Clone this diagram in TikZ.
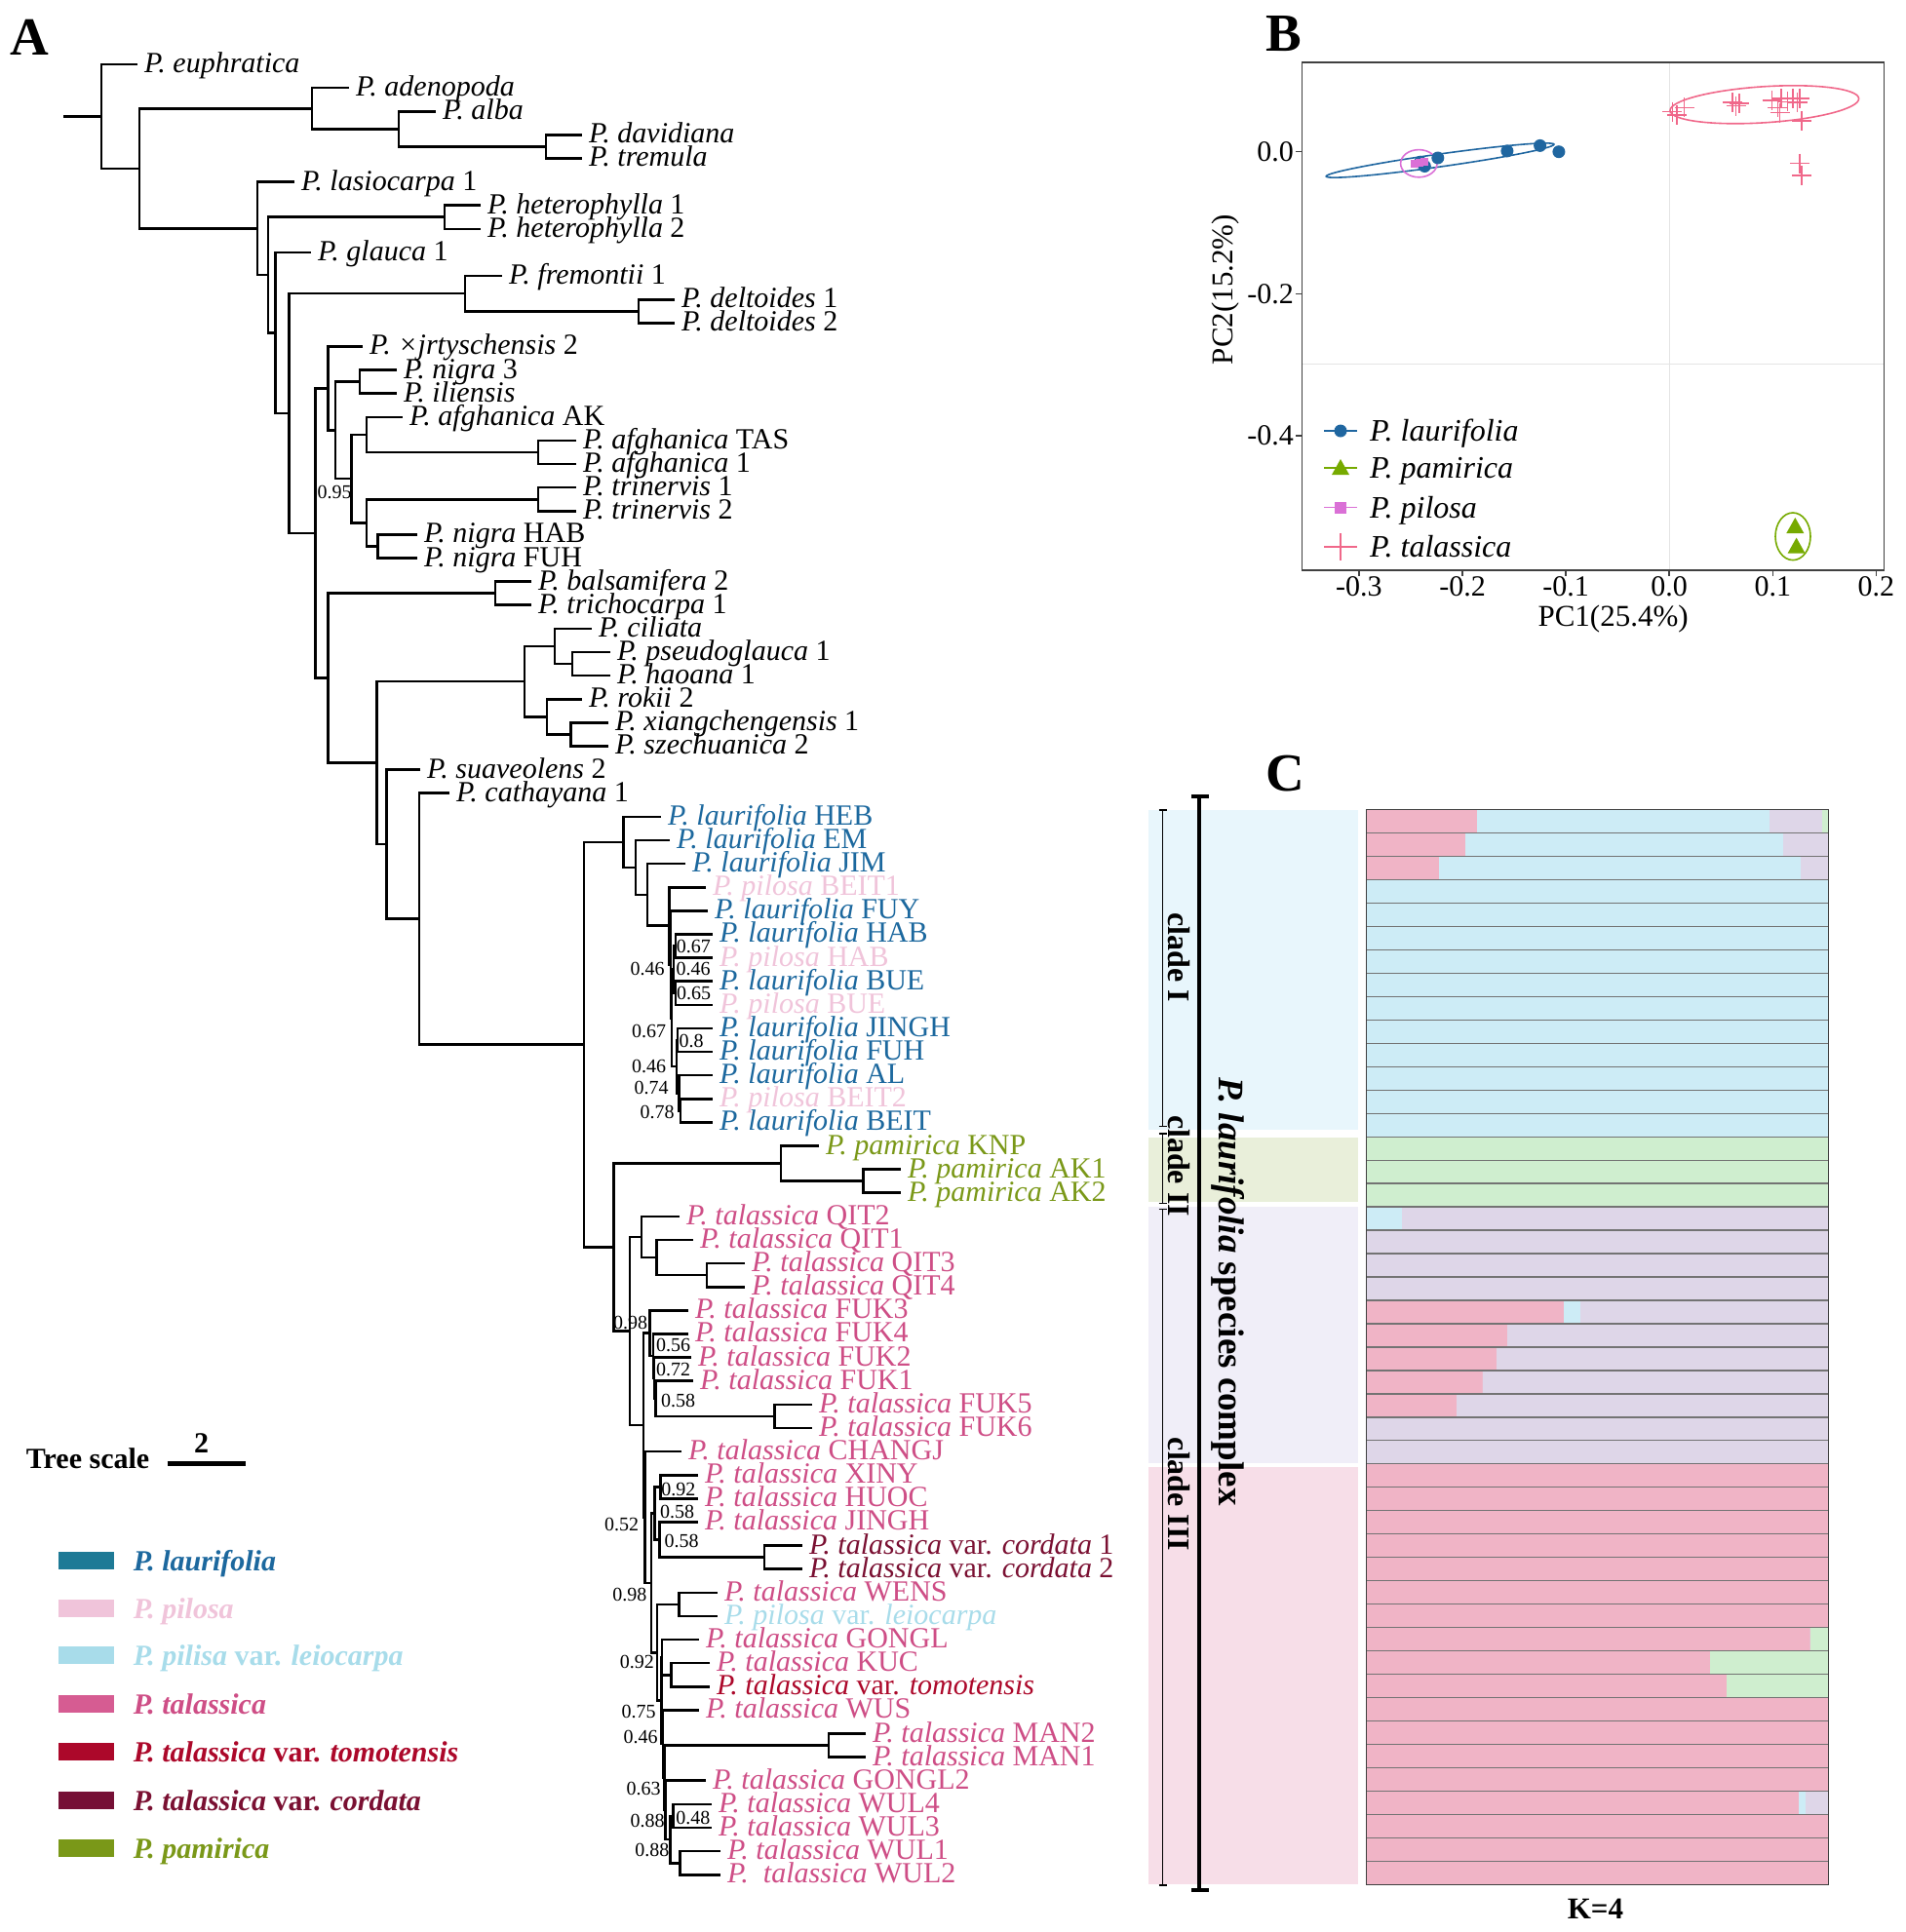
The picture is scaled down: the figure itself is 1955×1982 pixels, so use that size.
\documentclass[tikz,border=0pt]{standalone}
\usepackage{fontspec}
\setmainfont{Liberation Serif}
\usetikzlibrary{calc}

\definecolor{laublue}{RGB}{28,104,158}
\definecolor{pilpink}{RGB}{240,196,218}
\definecolor{leicyan}{RGB}{168,220,234}
\definecolor{talpink}{RGB}{206,78,134}
\definecolor{tomred}{RGB}{172,8,42}
\definecolor{cormar}{RGB}{122,16,50}
\definecolor{pamgreen}{RGB}{122,152,24}
\definecolor{lauteal}{RGB}{30,122,150}
\definecolor{talsw}{RGB}{214,92,146}
\definecolor{corsw}{RGB}{118,16,54}
\definecolor{pcablue}{RGB}{31,102,160}
\definecolor{pcagreen}{RGB}{118,170,0}
\definecolor{pcaviolet}{RGB}{218,112,214}
\definecolor{pcapink}{RGB}{240,104,138}
\definecolor{gridgrey}{RGB}{228,228,228}
\definecolor{qpink}{RGB}{240,180,198}
\definecolor{qcyan}{RGB}{205,236,246}
\definecolor{qlav}{RGB}{222,214,232}
\definecolor{qgreen}{RGB}{207,238,207}
\definecolor{bgcyan}{RGB}{232,246,252}
\definecolor{bgolive}{RGB}{233,239,218}
\definecolor{bglav}{RGB}{240,238,248}
\definecolor{bgpink}{RGB}{247,222,232}

\tikzset{branch/.style={line width=2.6pt}}
\tikzset{leaf/.style={anchor=west, inner xsep=7pt, inner ysep=0pt, outer sep=0pt, text height=20pt, text depth=3pt, font=\fontsize{30}{30}\selectfont}}
\tikzset{lau/.style={leaf, text=laublue}}
\tikzset{pil/.style={leaf, text=pilpink}}
\tikzset{pam/.style={leaf, text=pamgreen}}
\tikzset{tal/.style={leaf, text=talpink}}
\tikzset{cor/.style={leaf, text=cormar}}
\tikzset{tom/.style={leaf, text=tomred}}
\tikzset{lei/.style={leaf, text=leicyan}}
\tikzset{bs/.style={inner sep=0pt, font=\fontsize{20}{20}\selectfont}}
\tikzset{panel/.style={inner sep=0pt, font=\fontsize{55}{55}\selectfont\bfseries}}
\tikzset{lgd/.style={anchor=west, inner sep=0pt, text height=21pt, text depth=0pt, font=\fontsize{30}{30}\selectfont\bfseries\itshape}}
\tikzset{ticklab/.style={inner sep=0pt, font=\fontsize{30}{30}\selectfont}}
\tikzset{pkey/.style={anchor=west, inner sep=0pt, text height=21pt, text depth=0pt, font=\fontsize{32}{32}\selectfont\itshape}}
\tikzset{talcross/.style={pcapink, line width=1.5pt}}
\tikzset{cladelab/.style={inner sep=0pt, rotate=-90, font=\fontsize{32}{32}\selectfont\bfseries}}

\begin{document}
\begin{tikzpicture}[x=1pt, y=-1pt]
\useasboundingbox (0,0) rectangle (1955,1982);

\node[panel] (pA) at (30,38) {A};
\node[panel] (pB) at (1317,35) {B};
\node[panel] (pC) at (1318,794) {C};

% tree, one row per leaf
\begin{scope}[y=-24.12pt, yshift=-66pt]
\node[leaf] (l0) at (141,0) {\textit{P. euphratica}};
\node[leaf] (l1) at (358,1) {\textit{P. adenopoda}};
\node[leaf] (l2) at (447,2) {\textit{P. alba}};
\node[leaf] (l3) at (597,3) {\textit{P. davidiana}};
\node[leaf] (l4) at (597,4) {\textit{P. tremula}};
\node[leaf] (l5) at (302,5) {\textit{P. lasiocarpa} 1};
\node[leaf] (l6) at (493,6) {\textit{P. heterophylla} 1};
\node[leaf] (l7) at (493,7) {\textit{P. heterophylla} 2};
\node[leaf] (l8) at (319,8) {\textit{P. glauca} 1};
\node[leaf] (l9) at (515,9) {\textit{P. fremontii} 1};
\node[leaf] (l10) at (692,10) {\textit{P. deltoides} 1};
\node[leaf] (l11) at (692,11) {\textit{P. deltoides} 2};
\node[leaf] (l12) at (372,12) {\textit{P. ×jrtyschensis} 2};
\node[leaf] (l13) at (407,13) {\textit{P. nigra} 3};
\node[leaf] (l14) at (407,14) {\textit{P. iliensis}};
\node[leaf] (l15) at (413,15) {\textit{P. afghanica} AK};
\node[leaf] (l16) at (591,16) {\textit{P. afghanica} TAS};
\node[leaf] (l17) at (591,17) {\textit{P. afghanica} 1};
\node[leaf] (l18) at (591,18) {\textit{P. trinervis} 1};
\node[leaf] (l19) at (591,19) {\textit{P. trinervis} 2};
\node[leaf] (l20) at (428,20) {\textit{P. nigra} HAB};
\node[leaf] (l21) at (428,21) {\textit{P. nigra} FUH};
\node[leaf] (l22) at (545,22) {\textit{P. balsamifera} 2};
\node[leaf] (l23) at (545,23) {\textit{P. trichocarpa} 1};
\node[leaf] (l24) at (607,24) {\textit{P. ciliata}};
\node[leaf] (l25) at (626,25) {\textit{P. pseudoglauca} 1};
\node[leaf] (l26) at (626,26) {\textit{P. haoana} 1};
\node[leaf] (l27) at (597,27) {\textit{P. rokii} 2};
\node[leaf] (l28) at (624,28) {\textit{P. xiangchengensis} 1};
\node[leaf] (l29) at (624,29) {\textit{P. szechuanica} 2};
\node[leaf] (l30) at (431,30) {\textit{P. suaveolens} 2};
\node[leaf] (l31) at (461,31) {\textit{P. cathayana} 1};
\node[lau] (l32) at (678,32) {\textit{P. laurifolia} HEB};
\node[lau] (l33) at (687,33) {\textit{P. laurifolia} EM};
\node[lau] (l34) at (703,34) {\textit{P. laurifolia} JIM};
\node[pil] (l35) at (724,35) {\textit{P. pilosa} BEIT1};
\node[lau] (l36) at (726,36) {\textit{P. laurifolia} FUY};
\node[lau] (l37) at (731,37) {\textit{P. laurifolia} HAB};
\node[pil] (l38) at (731,38) {\textit{P. pilosa} HAB};
\node[lau] (l39) at (731,39) {\textit{P. laurifolia} BUE};
\node[pil] (l40) at (731,40) {\textit{P. pilosa} BUE};
\node[lau] (l41) at (731,41) {\textit{P. laurifolia} JINGH};
\node[lau] (l42) at (731,42) {\textit{P. laurifolia} FUH};
\node[lau] (l43) at (731,43) {\textit{P. laurifolia} AL};
\node[pil] (l44) at (731,44) {\textit{P. pilosa} BEIT2};
\node[lau] (l45) at (731,45) {\textit{P. laurifolia} BEIT};
\node[pam] (l46) at (840,46) {\textit{P. pamirica} KNP};
\node[pam] (l47) at (924,47) {\textit{P. pamirica} AK1};
\node[pam] (l48) at (924,48) {\textit{P. pamirica} AK2};
\node[tal] (l49) at (697,49) {\textit{P. talassica} QIT2};
\node[tal] (l50) at (711,50) {\textit{P. talassica} QIT1};
\node[tal] (l51) at (764,51) {\textit{P. talassica} QIT3};
\node[tal] (l52) at (764,52) {\textit{P. talassica} QIT4};
\node[tal] (l53) at (706,53) {\textit{P. talassica} FUK3};
\node[tal] (l54) at (706,54) {\textit{P. talassica} FUK4};
\node[tal] (l55) at (709,55) {\textit{P. talassica} FUK2};
\node[tal] (l56) at (711,56) {\textit{P. talassica} FUK1};
\node[tal] (l57) at (833,57) {\textit{P. talassica} FUK5};
\node[tal] (l58) at (833,58) {\textit{P. talassica} FUK6};
\node[tal] (l59) at (699,59) {\textit{P. talassica} CHANGJ};
\node[tal] (l60) at (716,60) {\textit{P. talassica} XINY};
\node[tal] (l61) at (716,61) {\textit{P. talassica} HUOC};
\node[tal] (l62) at (716,62) {\textit{P. talassica} JINGH};
\node[cor] (l63) at (823,63) {\textit{P. talassica} var. \textit{cordata} 1};
\node[cor] (l64) at (823,64) {\textit{P. talassica} var. \textit{cordata} 2};
\node[tal] (l65) at (736,65) {\textit{P. talassica} WENS};
\node[lei] (l66) at (736,66) {\textit{P. pilosa} var. \textit{leiocarpa}};
\node[tal] (l67) at (717,67) {\textit{P. talassica} GONGL};
\node[tal] (l68) at (728,68) {\textit{P. talassica} KUC};
\node[tom] (l69) at (728,69) {\textit{P. talassica} var. \textit{tomotensis}};
\node[tal] (l70) at (717,70) {\textit{P. talassica} WUS};
\node[tal] (l71) at (888,71) {\textit{P. talassica} MAN2};
\node[tal] (l72) at (888,72) {\textit{P. talassica} MAN1};
\node[tal] (l73) at (724,73) {\textit{P. talassica} GONGL2};
\node[tal] (l74) at (730,74) {\textit{P. talassica} WUL4};
\node[tal] (l75) at (730,75) {\textit{P. talassica} WUL3};
\node[tal] (l76) at (739,76) {\textit{P. talassica} WUL1};
\node[tal] (l77) at (739,77) {\textit{P.\ \ talassica} WUL2};

\coordinate (stem) at (65,2.214);
\coordinate (rt) at (104,2.214);
\coordinate (n1) at (143,4.428);
\coordinate (ad1) at (320,1.875);
\coordinate (ad2) at (409,2.75);
\coordinate (ad3) at (560,3.5);
\coordinate (n2) at (264,6.981);
\coordinate (n3) at (275,8.962);
\coordinate (he) at (456,6.5);
\coordinate (n4) at (282.7,11.423);
\coordinate (n5) at (296.7,14.847);
\coordinate (fr) at (477,9.75);
\coordinate (de) at (655,10.5);
\coordinate (nA) at (323.3,19.944);
\coordinate (nB) at (336.7,13.781);
\coordinate (nD) at (344,15.563);
\coordinate (ni) at (369,13.5);
\coordinate (nE) at (360.5,17.625);
\coordinate (af) at (376,15.75);
\coordinate (af2) at (552,16.5);
\coordinate (nG) at (376,19.5);
\coordinate (tr) at (552,18.5);
\coordinate (ng) at (387.5,20.5);
\coordinate (nC) at (336.7,26.106);
\coordinate (ba) at (508,22.5);
\coordinate (nH) at (386.7,29.712);
\coordinate (cg) at (538,26.25);
\coordinate (ci) at (569,24.75);
\coordinate (ps) at (587,25.5);
\coordinate (ro) at (561,27.75);
\coordinate (xi) at (585.5,28.5);
\coordinate (nI) at (396.7,33.174);
\coordinate (nJ) at (430,36.349);
\coordinate (nK) at (599,41.697);
\coordinate (nL) at (639.5,33.080);
\coordinate (nM) at (652,34.160);
\coordinate (nN) at (664,35.320);
\coordinate (nO) at (686.6,36.641);
\coordinate (la9) at (688,38.281);
\coordinate (la8) at (689,40.563);
\coordinate (la3) at (691,38.5);
\coordinate (la1) at (693,37.5);
\coordinate (la2) at (693,39.5);
\coordinate (la7) at (694,42.625);
\coordinate (la4) at (695,41.5);
\coordinate (la6) at (696.5,43.75);
\coordinate (la5) at (698,44.5);
\coordinate (nP) at (629.7,50.314);
\coordinate (pa) at (801,46.75);
\coordinate (pa2) at (885.6,47.5);
\coordinate (nR) at (646,53.878);
\coordinate (qi) at (658,49.875);
\coordinate (qi2) at (673.7,50.75);
\coordinate (qi3) at (725,51.5);
\coordinate (nT) at (660,57.881);
\coordinate (fu1) at (666.7,53.969);
\coordinate (fu2) at (670,54.938);
\coordinate (fu3) at (671,55.875);
\coordinate (fu4) at (672.5,56.75);
\coordinate (fu5) at (794.7,57.5);
\coordinate (nZ) at (661.7,61.793);
\coordinate (nY) at (668,64.586);
\coordinate (nX) at (671.7,61.625);
\coordinate (xn) at (677.5,60.5);
\coordinate (jc) at (676.6,62.75);
\coordinate (co) at (784,63.5);
\coordinate (nV) at (674,67.547);
\coordinate (we) at (696.7,65.5);
\coordinate (nW) at (678.3,69.594);
\coordinate (w1) at (679,67.75);
\coordinate (kt) at (688.3,68.5);
\coordinate (wu) at (680,71.438);
\coordinate (wm) at (681.7,72.875);
\coordinate (mn) at (849.8,71.5);
\coordinate (g2) at (682.7,74.25);
\coordinate (wl) at (687.3,75.5);
\coordinate (w43) at (690.7,74.5);
\coordinate (w12) at (697.3,76.5);

\draw[branch] (stem) -- (rt)
  (l0.west) -| (rt) |- (n1)
  (ad1) -| (n1) |- (n2)
  (l1.west) -| (ad1) |- (ad2)
  (l2.west) -| (ad2) |- (ad3)
  (l3.west) -| (ad3) |- (l4.west)
  (l5.west) -| (n2) |- (n3)
  (he) -| (n3) |- (n4)
  (l6.west) -| (he) |- (l7.west)
  (l8.west) -| (n4) |- (n5)
  (fr) -| (n5) |- (nA)
  (l9.west) -| (fr) |- (de)
  (l10.west) -| (de) |- (l11.west)
  (nB) -| (nA) |- (nC)
  (l12.west) -| (nB) |- (nD)
  (ni) -| (nD) |- (nE)
  (l13.west) -| (ni) |- (l14.west)
  (af) -| (nE) |- (nG)
  (l15.west) -| (af) |- (af2)
  (l16.west) -| (af2) |- (l17.west)
  (tr) -| (nG) |- (ng)
  (l18.west) -| (tr) |- (l19.west)
  (l20.west) -| (ng) |- (l21.west)
  (ba) -| (nC) |- (nH)
  (l22.west) -| (ba) |- (l23.west)
  (cg) -| (nH) |- (nI)
  (ci) -| (cg) |- (ro)
  (l24.west) -| (ci) |- (ps)
  (l25.west) -| (ps) |- (l26.west)
  (l27.west) -| (ro) |- (xi)
  (l28.west) -| (xi) |- (l29.west)
  (l30.west) -| (nI) |- (nJ)
  (l31.west) -| (nJ) |- (nK)
  (nL) -| (nK) |- (nP)
  (l32.west) -| (nL) |- (nM)
  (l33.west) -| (nM) |- (nN)
  (l34.west) -| (nN) |- (nO)
  (l35.west) -| (nO) |- (la9)
  (l36.west) -| (la9) |- (la8)
  (la3) -| (la8) |- (la7)
  (la1) -| (la3) |- (la2)
  (l37.west) -| (la1) |- (l38.west)
  (l39.west) -| (la2) |- (l40.west)
  (la4) -| (la7) |- (la6)
  (l41.west) -| (la4) |- (l42.west)
  (l43.west) -| (la6) |- (la5)
  (l44.west) -| (la5) |- (l45.west)
  (pa) -| (nP) |- (nR)
  (l46.west) -| (pa) |- (pa2)
  (l47.west) -| (pa2) |- (l48.west)
  (qi) -| (nR) |- (nT)
  (l49.west) -| (qi) |- (qi2)
  (l50.west) -| (qi2) |- (qi3)
  (l51.west) -| (qi3) |- (l52.west)
  (fu1) -| (nT) |- (nZ)
  (l53.west) -| (fu1) |- (fu2)
  (l54.west) -| (fu2) |- (fu3)
  (l55.west) -| (fu3) |- (fu4)
  (l56.west) -| (fu4) |- (fu5)
  (l57.west) -| (fu5) |- (l58.west)
  (l59.west) -| (nZ) |- (nY)
  (nX) -| (nY) |- (nV)
  (xn) -| (nX) |- (jc)
  (l60.west) -| (xn) |- (l61.west)
  (l62.west) -| (jc) |- (co)
  (l63.west) -| (co) |- (l64.west)
  (we) -| (nV) |- (nW)
  (l65.west) -| (we) |- (l66.west)
  (w1) -| (nW) |- (wu)
  (l67.west) -| (w1) |- (kt)
  (l68.west) -| (kt) |- (l69.west)
  (l70.west) -| (wu) |- (wm)
  (mn) -| (wm) |- (g2)
  (l71.west) -| (mn) |- (l72.west)
  (l73.west) -| (g2) |- (wl)
  (w43) -| (wl) |- (w12)
  (l74.west) -| (w43) |- (l75.west)
  (l76.west) -| (w12) |- (l77.west);
\end{scope}

% node support
\node[bs] (b1) at (343,505) {0.95};
\node[bs] (b2) at (711.3,970.5) {0.67};
\node[bs] (b3) at (711,994) {0.46};
\node[bs] (b4) at (711.5,1019) {0.65};
\node[bs] (b5) at (664,994) {0.46};
\node[bs] (b6) at (665.5,1057.5) {0.67};
\node[bs] (b7) at (709,1067.5) {0.8};
\node[bs] (b8) at (665.5,1094) {0.46};
\node[bs] (b9) at (668,1115.5) {0.74};
\node[bs] (b10) at (674,1140.5) {0.78};
\node[bs] (b11) at (646.7,1356.7) {0.98};
\node[bs] (b12) at (690.5,1380.4) {0.56};
\node[bs] (b13) at (690.5,1405) {0.72};
\node[bs] (b14) at (695.5,1436.8) {0.58};
\node[bs] (b15) at (695.8,1527.7) {0.92};
\node[bs] (b16) at (694.5,1551.4) {0.58};
\node[bs] (b17) at (699,1581) {0.58};
\node[bs] (b18) at (637.5,1564.3) {0.52};
\node[bs] (b19) at (645.8,1636.4) {0.98};
\node[bs] (b20) at (653.3,1704.6) {0.92};
\node[bs] (b21) at (655,1756) {0.75};
\node[bs] (b22) at (657,1781.7) {0.46};
\node[bs] (b23) at (660,1835) {0.63};
\node[bs] (b24) at (664,1867.8) {0.88};
\node[bs] (b25) at (710.8,1864.8) {0.48};
\node[bs] (b26) at (668.8,1898.4) {0.88};

% scale and legend
\node[anchor=west, inner sep=0pt, font=\fontsize{30}{30}\selectfont\bfseries] (ts) at (26.7,1496) {Tree scale};
\coordinate (sb1) at (171.7,1501.7);
\coordinate (sb2) at (251.7,1501.7);
\draw[line width=4.5pt] (sb1) -- (sb2);
\node[inner sep=0pt, font=\fontsize{30}{30}\selectfont\bfseries] (sbl) at (206.7,1481) {2};

\fill[lauteal] (60,1591.5) rectangle (116.7,1609.5);
\node[lgd, text=laublue] (g1) at (136.7,1600.5) {P. laurifolia};
\fill[pilpink] (60,1640.5) rectangle (116.7,1658.5);
\node[lgd, text=pilpink] (g2) at (136.7,1649.5) {P. pilosa};
\fill[leicyan] (60,1689) rectangle (116.7,1707);
\node[lgd, text=leicyan] (g3) at (136.7,1698) {P. pilisa \upshape var. \itshape leiocarpa};
\fill[talsw] (60,1738.7) rectangle (116.7,1756.7);
\node[lgd, text=talpink] (g4) at (136.7,1747.7) {P. talassica};
\fill[tomred] (60,1788.3) rectangle (116.7,1806.3);
\node[lgd, text=tomred] (g5) at (136.7,1797.3) {P. talassica \upshape var. \itshape tomotensis};
\fill[corsw] (60,1837.7) rectangle (116.7,1855.7);
\node[lgd, text=cormar] (g6) at (136.7,1846.7) {P. talassica \upshape var. \itshape cordata};
\fill[pamgreen] (60,1887) rectangle (116.7,1905);
\node[lgd, text=pamgreen] (g7) at (136.7,1896) {P. pamirica};

% PCA
\draw[gridgrey, line width=1pt] (1712.2,64) -- (1712.2,585);
\draw[gridgrey, line width=1pt] (1335.4,373.7) -- (1932.5,373.7);
\draw[pcablue, line width=1.6pt, rotate around={8:(1477.1,164.5)}] (1477.1,164.5) ellipse [x radius=118pt, y radius=6.5pt];
\draw[pcaviolet, line width=1.6pt] (1455.3,167.7) ellipse [x radius=18.7pt, y radius=14.1pt];
\draw[pcapink, line width=1.6pt, rotate around={3.7:(1809.8,107.3)}] (1809.8,107.3) ellipse [x radius=97pt, y radius=18.5pt];
\draw[pcagreen, line width=1.6pt] (1839,550.3) ellipse [x radius=18pt, y radius=24.3pt];
\foreach \px/\py in {1456.8/166.2, 1461.3/170.5, 1474.8/162, 1545.9/154.9, 1579.6/149.4, 1598.9/155.7}
  \fill[pcablue] (\px,\py) circle (6.5pt);
\foreach \px/\py in {1451/167.5, 1456/166.5, 1461/165.5}
  \fill[pcaviolet] ({\px-4},{\py-4}) rectangle ({\px+4},{\py+4});
\foreach \px/\py in {1715.4/114.5, 1719.9/117.8, 1727.5/110.3, 1777/105.2, 1780.6/108.6, 1784.2/106.1, 1817.5/103.1, 1823.3/110.3, 1826.9/101, 1833.6/104.4, 1839/101, 1843.5/105.2, 1845.8/101, 1825.5/115.7, 1848/124.2, 1845.8/167.5, 1848/180.1}
  \draw[talcross] ({\px-10},\py) -- ({\px+10},\py) (\px,{\py-10}) -- (\px,{\py+10});
\foreach \px/\py in {1841.3/540, 1842.6/560.6}
  \fill[pcagreen] (\px,{\py-9}) -- ({\px-9},{\py+7}) -- ({\px+9},{\py+7}) -- cycle;
\draw[line width=1.5pt, black!75] (1335.4,64) rectangle (1932.5,585);
\foreach \v/\lab in {-0.3/-0.3, -0.2/-0.2, -0.1/-0.1, 0/0.0, 0.1/0.1, 0.2/0.2} {
  \draw[line width=1.5pt, black!75] ({1712.2+1061*\v},585) -- ({1712.2+1061*\v},591);
  \node[ticklab] (xt\lab) at ({1712.2+1061*\v},602) {\lab};
}
\foreach \v/\lab in {0/0.0, -0.2/-0.2, -0.4/-0.4} {
  \draw[line width=1.5pt, black!75] (1329.4,{155.7-728*\v}) -- (1335.4,{155.7-728*\v});
  \node[ticklab, anchor=east] (yt\lab) at (1327,{155.7-728*\v}) {\lab};
}
\node[ticklab, font=\fontsize{31}{31}\selectfont] (xlab) at (1654.6,635.5) {PC1(25.4\%)};
\node[ticklab, font=\fontsize{31}{31}\selectfont, rotate=90] (ylab) at (1257,297) {PC2(15.2\%)};

\draw[pcablue, line width=1.6pt] (1358,442) -- (1392,442);
\fill[pcablue] (1375,442) circle (6.5pt);
\node[pkey] (k1) at (1405,442) {P. laurifolia};
\draw[pcagreen, line width=1.6pt] (1358,480) -- (1392,480);
\fill[pcagreen] (1375,471) -- (1366,487) -- (1384,487) -- cycle;
\node[pkey] (k2) at (1405,480) {P. pamirica};
\draw[pcaviolet, line width=1.6pt] (1358,520.6) -- (1392,520.6);
\fill[pcaviolet] (1369,514.6) rectangle (1381,526.6);
\node[pkey] (k3) at (1405,520.6) {P. pilosa};
\draw[talcross] (1358,561) -- (1392,561) (1375,547) -- (1375,575);
\node[pkey] (k4) at (1405,561) {P. talassica};

% structure, K=4
\fill[bgcyan] (1178,831) rectangle (1393,1159.4);
\fill[bgolive] (1178,1166.5) rectangle (1393,1232.5);
\fill[bglav] (1178,1238.4) rectangle (1393,1501.2);
\fill[bgpink] (1178,1505.2) rectangle (1393,1932.6);
\foreach \k/\a/\b/\c in {0/1514.5/1814.8/1868.7, 1/1503.2/1829.2/1875.4, 2/1476/1847.1/1875.4,
  3/1401.5/1875.4/1875.4, 4/1401.5/1875.4/1875.4, 5/1401.5/1875.4/1875.4, 6/1401.5/1875.4/1875.4,
  7/1401.5/1875.4/1875.4, 8/1401.5/1875.4/1875.4, 9/1401.5/1875.4/1875.4, 10/1401.5/1875.4/1875.4,
  11/1401.5/1875.4/1875.4, 12/1401.5/1875.4/1875.4, 13/1401.5/1875.4/1875.4,
  14/1401.5/1401.5/1401.5, 15/1401.5/1401.5/1401.5, 16/1401.5/1401.5/1401.5,
  17/1401.5/1437.5/1875.4, 18/1401.5/1401.5/1875.4, 19/1401.5/1401.5/1875.4, 20/1401.5/1401.5/1875.4,
  21/1604.3/1621.2/1875.4, 22/1546.3/1546.3/1875.4, 23/1535/1535/1875.4, 24/1520.6/1520.6/1875.4,
  25/1494/1494/1875.4, 26/1401.5/1401.5/1875.4, 27/1401.5/1401.5/1875.4,
  28/1875.4/1875.4/1875.4, 29/1875.4/1875.4/1875.4, 30/1875.4/1875.4/1875.4, 31/1875.4/1875.4/1875.4,
  32/1875.4/1875.4/1875.4, 33/1875.4/1875.4/1875.4, 34/1875.4/1875.4/1875.4,
  35/1856.9/1856.9/1856.9, 36/1754.2/1754.2/1754.2, 37/1771.1/1771.1/1771.1,
  38/1875.4/1875.4/1875.4, 39/1875.4/1875.4/1875.4, 40/1875.4/1875.4/1875.4, 41/1875.4/1875.4/1875.4,
  42/1844.6/1851.7/1875.4, 43/1875.4/1875.4/1875.4, 44/1875.4/1875.4/1875.4, 45/1875.4/1875.4/1875.4} {
  \pgfmathsetmacro\ytop{830.4+23.98*\k}
  \pgfmathsetmacro\ybot{\ytop+23.98}
  \fill[qpink] (1401.5,\ytop) rectangle (\a,\ybot);
  \fill[qcyan] (\a,\ytop) rectangle (\b,\ybot);
  \fill[qlav] (\b,\ytop) rectangle (\c,\ybot);
  \fill[qgreen] (\c,\ytop) rectangle (1875.4,\ybot);
}
\foreach \k in {1,...,45}
  \draw[black!55, line width=1.2pt] (1401.5,{830.4+23.98*\k}) -- (1875.4,{830.4+23.98*\k});
\draw[black!75, line width=1.3pt] (1401.5,830.4) rectangle (1875.4,1933.5);

\draw[line width=1.5pt] (1188.5,831) -- (1197,831) (1192.6,831) -- (1192.6,1155.4) (1188.5,1155.4) -- (1197,1155.4);
\draw[line width=1.5pt] (1188.5,1163) -- (1197,1163) (1192.6,1163) -- (1192.6,1234.5) (1188.5,1234.5) -- (1197,1234.5);
\draw[line width=1.5pt] (1188.5,1240.4) -- (1197,1240.4) (1192.6,1240.4) -- (1192.6,1934) (1188.5,1934) -- (1197,1934);
\draw[line width=4pt] (1222,817.3) -- (1240,817.3) (1229.6,817.3) -- (1229.6,1938.7) (1222,1938.7) -- (1240,1938.7);
\node[cladelab] (c1) at (1209,982) {clade I};
\node[cladelab] (c2) at (1209,1196) {clade II};
\node[cladelab] (c3) at (1209,1533) {clade III};
\node[inner sep=0pt, rotate=-90, font=\fontsize{37}{37}\selectfont\bfseries] (cx) at (1260,1325) {\textit{P. laurifolia} species complex};
\node[inner sep=0pt, font=\fontsize{31}{31}\selectfont\bfseries] (kk) at (1636.5,1958) {K=4};
\end{tikzpicture}
\end{document}
